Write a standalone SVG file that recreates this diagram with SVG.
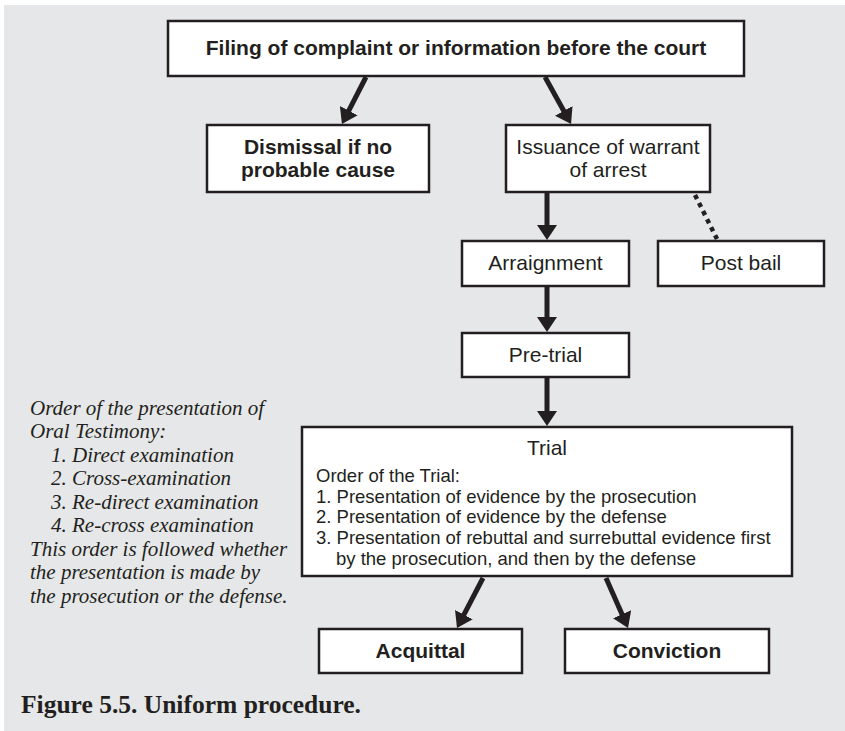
<svg xmlns="http://www.w3.org/2000/svg" width="845" height="731" viewBox="0 0 845 731">
<style>
.box{fill:#ffffff;stroke:#231f20;stroke-width:2.5}
.lbl{font-family:"Liberation Sans",Arial,sans-serif;font-size:21px;fill:#231f20;text-anchor:middle}
.b{font-weight:bold}
.tl{font-family:"Liberation Sans",Arial,sans-serif;font-size:18.5px;fill:#231f20}
.it{font-family:"Liberation Serif","Times New Roman",serif;font-style:italic;font-size:21px;fill:#231f20}
.cap{font-family:"Liberation Serif","Times New Roman",serif;font-weight:bold;font-size:25.5px;fill:#231f20}
.arr{stroke:#231f20;stroke-width:5;fill:none;marker-end:url(#ah)}
.dot{stroke:#231f20;stroke-width:4.5;stroke-dasharray:4.5 4.5;fill:none}
</style>
<defs>
<marker id="ah" markerUnits="userSpaceOnUse" viewBox="0 0 15 20" markerWidth="15" markerHeight="20" refX="5" refY="10" orient="auto">
<path d="M0,0 L15,10 L0,20 z" fill="#231f20"/>
</marker>
</defs>
<rect x="4" y="5" width="841" height="726" fill="#e6e7e8"/>
<g id="connectors">
<line class="arr" x1="366" y1="77" x2="346.5" y2="115.1"/>
<line class="arr" x1="545" y1="77" x2="566.2" y2="115.2"/>
<line class="arr" x1="547" y1="193" x2="547" y2="230"/>
<line class="arr" x1="547" y1="287" x2="547" y2="322"/>
<line class="arr" x1="547" y1="378" x2="547" y2="416"/>
<line class="arr" x1="483" y1="578" x2="461.6" y2="619.1"/>
<line class="arr" x1="606" y1="578" x2="624" y2="618.8"/>
<line class="dot" x1="695" y1="195" x2="717" y2="239"/>
</g>
<g id="filing">
<rect class="box" x="168" y="21" width="576" height="55"/>
<text class="lbl b" x="456" y="55">Filing of complaint or information before the court</text>
</g>
<g id="dismissal">
<rect class="box" x="207" y="125" width="222" height="67"/>
<text class="lbl b" x="318" y="154">Dismissal if no</text>
<text class="lbl b" x="318" y="177">probable cause</text>
</g>
<g id="issuance">
<rect class="box" x="506" y="125" width="204" height="67"/>
<text class="lbl" x="608" y="154">Issuance of warrant</text>
<text class="lbl" x="608" y="177">of arrest</text>
</g>
<g id="arraignment">
<rect class="box" x="462" y="241" width="167" height="45"/>
<text class="lbl" x="545.5" y="270">Arraignment</text>
</g>
<g id="postbail">
<rect class="box" x="658" y="241" width="166" height="45"/>
<text class="lbl" x="741" y="270">Post bail</text>
</g>
<g id="pretrial">
<rect class="box" x="462" y="333" width="167" height="44"/>
<text class="lbl" x="545.5" y="362">Pre-trial</text>
</g>
<g id="trial">
<rect class="box" x="302" y="427" width="490" height="149"/>
<text class="lbl" x="547" y="455">Trial</text>
<text class="tl" x="316" y="482">Order of the Trial:</text>
<text class="tl" x="316" y="503">1. Presentation of evidence by the prosecution</text>
<text class="tl" x="316" y="523">2. Presentation of evidence by the defense</text>
<text class="tl" x="316" y="544">3. Presentation of rebuttal and surrebuttal evidence first</text>
<text class="tl" x="336" y="565">by the prosecution, and then by the defense</text>
</g>
<g id="acquittal">
<rect class="box" x="319" y="629" width="203" height="44"/>
<text class="lbl b" x="420.5" y="658">Acquittal</text>
</g>
<g id="conviction">
<rect class="box" x="565" y="629" width="204" height="44"/>
<text class="lbl b" x="667" y="658">Conviction</text>
</g>
<g id="oral-testimony-note">
<text class="it" x="30" y="415">Order of the presentation of</text>
<text class="it" x="30" y="438">Oral Testimony:</text>
<text class="it" x="51" y="462">1. Direct examination</text>
<text class="it" x="51" y="485">2. Cross-examination</text>
<text class="it" x="51" y="509">3. Re-direct examination</text>
<text class="it" x="51" y="532">4. Re-cross examination</text>
<text class="it" x="30" y="556">This order is followed whether</text>
<text class="it" x="30" y="579">the presentation is made by</text>
<text class="it" x="30" y="603">the prosecution or the defense.</text>
</g>
<text class="cap" x="21" y="713">Figure 5.5. Uniform procedure.</text>
</svg>
